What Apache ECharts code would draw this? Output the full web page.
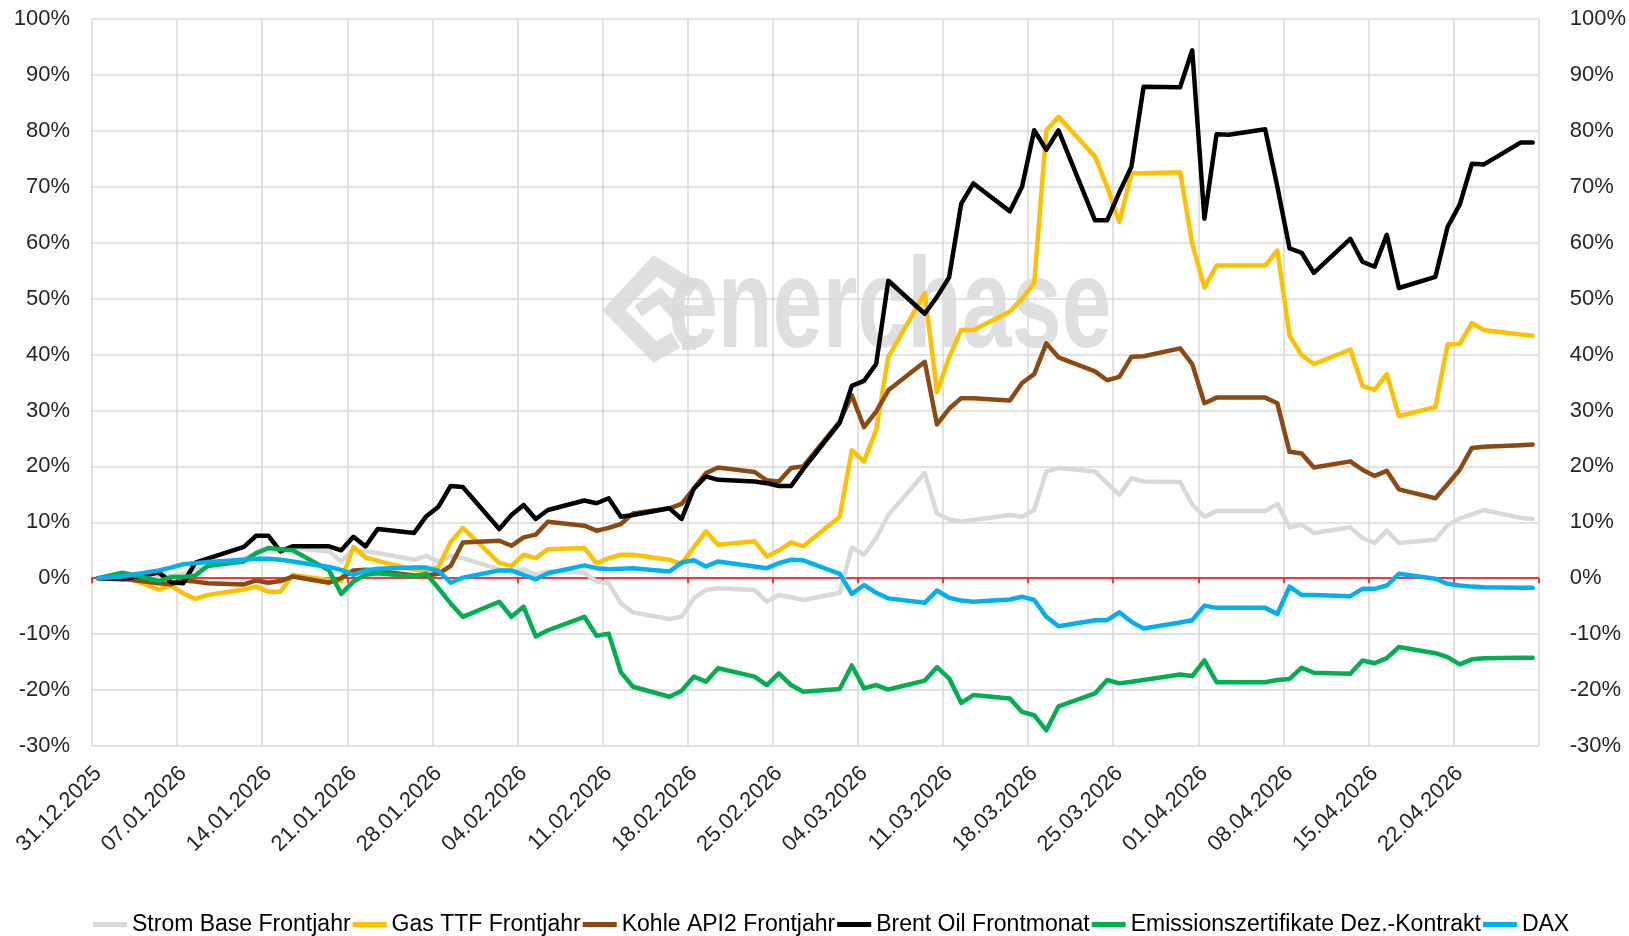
<!DOCTYPE html>
<html>
<head>
<meta charset="utf-8">
<script src="https://cdn.jsdelivr.net/npm/echarts@6/dist/echarts.min.js"></script>
<style>
  html, body { margin: 0; padding: 0; background: #fff; }
  #chart { width: 1629px; height: 936px; }
</style>
</head>
<body>
<div id="chart"></div>
<script>
  // Achse: 31.12.2025 bis 29.04.2026 (119 Tage), Beschriftung alle 7 Tage
  const startDate = '31.12.2025';
  const dayCount = 119;
  const tickLabels = ['31.12.2025', '07.01.2026', '14.01.2026', '21.01.2026', '28.01.2026', '04.02.2026',
    '11.02.2026', '18.02.2026', '25.02.2026', '04.03.2026', '11.03.2026', '18.03.2026', '25.03.2026',
    '01.04.2026', '08.04.2026', '15.04.2026', '22.04.2026'];

  const tradingDays = ['31.12.2025', '02.01.2026', '05.01.2026', '06.01.2026', '07.01.2026', '08.01.2026', '09.01.2026',
    '12.01.2026', '13.01.2026', '14.01.2026', '15.01.2026', '16.01.2026',
    '19.01.2026', '20.01.2026', '21.01.2026', '22.01.2026', '23.01.2026',
    '26.01.2026', '27.01.2026', '28.01.2026', '29.01.2026', '30.01.2026',
    '02.02.2026', '03.02.2026', '04.02.2026', '05.02.2026', '06.02.2026',
    '09.02.2026', '10.02.2026', '11.02.2026', '12.02.2026', '13.02.2026',
    '16.02.2026', '17.02.2026', '18.02.2026', '19.02.2026', '20.02.2026',
    '23.02.2026', '24.02.2026', '25.02.2026', '26.02.2026', '27.02.2026',
    '02.03.2026', '03.03.2026', '04.03.2026', '05.03.2026', '06.03.2026',
    '09.03.2026', '10.03.2026', '11.03.2026', '12.03.2026', '13.03.2026',
    '16.03.2026', '17.03.2026', '18.03.2026', '19.03.2026', '20.03.2026',
    '23.03.2026', '24.03.2026', '25.03.2026', '26.03.2026', '27.03.2026',
    '30.03.2026', '31.03.2026', '01.04.2026', '02.04.2026', '03.04.2026',
    '06.04.2026', '07.04.2026', '08.04.2026', '09.04.2026', '10.04.2026',
    '13.04.2026', '14.04.2026', '15.04.2026', '16.04.2026', '17.04.2026',
    '20.04.2026', '21.04.2026', '22.04.2026', '23.04.2026', '24.04.2026',
    '27.04.2026', '28.04.2026'];

  // Veränderung seit 31.12.2025 in %
  const strom = [0, 0.5, 0.2, 0.4, 0.8, 1.5, 2.2,
    3.5, 4.5, 5.3, 5.2, 5.4,
    4.8, 3.0, 5.1, 4.8, 4.5,
    3.3, 4.0, 3.0, 4.0, 3.6,
    1.6, 0.9, 1.6, 0.6, 1.2,
    1.0, -0.6, -0.9, -4.5, -6.1,
    -7.3, -6.9, -3.6, -2.1, -1.8,
    -2.1, -4.2, -3.0, -3.4, -3.9,
    -2.6, 5.5, 4.2, 7.2, 11.3,
    18.8, 11.6, 10.5, 10.1, 10.4,
    11.3, 11.0, 12.2, 19.1, 19.7,
    19.1, 17.0, 14.9, 17.9, 17.3,
    17.2, 13.2, 11.0, 12.0, 12.0,
    12.0, 13.3, 9.1, 9.6, 8.1,
    9.1, 7.2, 6.3, 8.5, 6.3,
    6.9, 9.5, 10.7, 11.4, 12.2,
    10.8, 10.6];

  const gas = [0, 0.4, -2.0, -1.3, -2.7, -3.7, -3.0,
    -2.0, -1.5, -2.4, -2.4, 0.6,
    -0.3, -0.5, 5.6, 3.7, 3.1,
    1.5, 1.3, 2.0, 6.5, 9.0,
    2.7, 2.2, 4.2, 3.6, 5.2,
    5.4, 2.7, 3.6, 4.2, 4.2,
    3.3, 2.6, 5.5, 8.4, 6.0,
    6.6, 3.9, 5.0, 6.4, 5.7,
    11.0, 22.9, 20.9, 26.5, 39.6,
    51.0, 33.3, 39.5, 44.4, 44.4,
    47.7, 50.0, 52.8, 80.1, 82.5,
    75.4, 70.0, 63.7, 72.4, 72.4,
    72.6, 59.8, 52.0, 55.9, 55.9,
    55.9, 58.6, 43.4, 39.9, 38.3,
    40.9, 34.4, 33.7, 36.5, 29.0,
    30.6, 41.8, 41.9, 45.6, 44.4,
    43.6, 43.4];

  const kohle = [0, -0.1, -0.9, -1.1, -0.4, -0.6, -0.9,
    -1.1, -0.4, -0.8, -0.5, 0.3,
    -0.8, 0.0, 1.4, 1.5, 1.3,
    0.5, 0.5, 0.8, 2.2, 6.4,
    6.7, 5.8, 7.3, 7.8, 10.1,
    9.4, 8.5, 9.0, 9.7, 11.6,
    12.5, 13.3, 16.0, 18.8, 19.8,
    19.0, 17.5, 17.3, 19.7, 20.0,
    28.0, 32.7, 27.0, 29.8, 33.6,
    38.7, 27.5, 30.3, 32.2, 32.2,
    31.8, 34.9, 36.5, 42.0, 39.5,
    37.0, 35.4, 36.0, 39.6, 39.7,
    41.1, 38.3, 31.3, 32.3, 32.3,
    32.3, 31.3, 22.6, 22.3, 19.8,
    20.9, 19.4, 18.3, 19.2, 15.9,
    14.3, 16.8, 19.4, 23.3, 23.5,
    23.8, 23.9];

  const brent = [0, -0.2, 1.0, -0.7, -0.9, 2.8, 3.5,
    5.6, 7.6, 7.6, 4.8, 5.7,
    5.7, 5.0, 7.4, 5.7, 8.8,
    8.1, 11.1, 12.8, 16.5, 16.3,
    8.8, 11.3, 13.1, 10.6, 12.2,
    13.9, 13.4, 14.3, 11.0, 11.3,
    12.5, 10.6, 16.0, 18.2, 17.6,
    17.3, 17.0, 16.5, 16.5, 19.5,
    27.8, 34.4, 35.3, 38.3, 53.2,
    47.3, 50.3, 53.8, 67.0, 70.6,
    65.6, 70.0, 80.1, 76.6, 80.1,
    64.0, 64.0, 69.0, 73.6, 87.9,
    87.8, 94.4, 64.3, 79.4, 79.3,
    80.3, 70.0, 59.0, 58.2, 54.6,
    60.7, 56.6, 55.7, 61.4, 51.9,
    53.9, 62.8, 66.8, 74.1, 74.0,
    77.9, 77.9];

  const emissionen = [0, 1.0, -0.5, 0.2, 0.2, 0.5, 2.2,
    3.0, 4.5, 5.4, 5.2, 5.0,
    1.4, -2.8, -0.6, 0.6, 0.9,
    0.3, 0.8, -1.8, -4.5, -6.9,
    -4.2, -6.9, -5.1, -10.4, -9.3,
    -6.9, -10.3, -9.9, -16.8, -19.4,
    -21.2, -20.1, -17.6, -18.5, -16.1,
    -17.6, -19.1, -17.0, -19.1, -20.3,
    -19.8, -15.6, -19.7, -19.1, -19.9,
    -18.3, -15.9, -17.9, -22.3, -20.9,
    -21.5, -23.9, -24.5, -27.2, -22.9,
    -20.6, -18.2, -18.8, -18.5, -18.2,
    -17.2, -17.5, -14.7, -18.6, -18.6,
    -18.6, -18.2, -18.0, -16.0, -16.9,
    -17.1, -14.7, -15.2, -14.3, -12.3,
    -13.4, -14.1, -15.4, -14.5, -14.3,
    -14.2, -14.2];

  const dax = [0, 0.3, 1.4, 1.9, 2.5, 2.7, 2.9,
    3.3, 3.5, 3.5, 3.3, 3.0,
    2.0, 1.5, 0.6, 1.4, 1.7,
    1.9, 1.9, 1.3, -0.8, 0.1,
    1.4, 1.4, 0.6, -0.2, 0.9,
    2.3, 1.8, 1.6, 1.7, 1.8,
    1.2, 2.8, 3.2, 2.1, 3.0,
    2.1, 1.8, 2.7, 3.3, 3.2,
    0.8, -2.8, -1.2, -2.6, -3.6,
    -4.4, -2.2, -3.5, -4.0, -4.2,
    -3.8, -3.3, -3.9, -6.9, -8.6,
    -7.5, -7.5, -6.1, -7.8, -9.0,
    -7.9, -7.5, -4.9, -5.3, -5.3,
    -5.3, -6.4, -1.5, -3.0, -3.0,
    -3.2, -1.9, -1.9, -1.3, 0.8,
    -0.1, -1.0, -1.3, -1.5, -1.6,
    -1.7, -1.7];

  const seriesNames = ['Strom Base Frontjahr', 'Gas TTF Frontjahr', 'Kohle API2 Frontjahr',
    'Brent Oil Frontmonat', 'Emissionszertifikate Dez.-Kontrakt', 'DAX'];
  const seriesColors = ['#D9D9D9', '#FFC000', '#8C4A12', '#000000', '#00B050', '#00B0F0'];
  const seriesValues = [strom, gas, kohle, brent, emissionen, dax];

  function parseDate(s) {
    const p = s.split('.');
    return Date.UTC(+p[2], +p[1] - 1, +p[0]);
  }
  const t0 = parseDate(startDate);
  // Tag im Achsenbereich, Punkt in der Mitte des Tages
  const dayPos = tradingDays.map(d => (parseDate(d) - t0) / 86400000 + 0.5);

  const labelSlots = [];
  for (let i = 0; i < dayCount; i++) {
    labelSlots.push(i % 7 === 0 ? (tickLabels[i / 7] || '') : '');
  }

  const chartInstance = echarts.init(document.getElementById('chart'), null, {renderer: 'canvas'});
  const textColor = '#262626';
  const fontFamily = '"Liberation Sans", Arial, sans-serif';

  const chartSetting = {
    animation: false,
    backgroundColor: '#ffffff',
    textStyle: {fontFamily: fontFamily},
    grid: {left: 92, right: 88, top: 19, bottom: 190, containLabel: false},
    legend: {
      left: 88,
      top: 908,
      itemWidth: 34,
      itemHeight: 5,
      itemGap: 2,
      icon: 'rect',
      textStyle: {fontSize: 23, color: '#000000', fontFamily: fontFamily},
      data: seriesNames
    },
    xAxis: [{
      // Gitterlinien + rote Nulllinie
      type: 'value',
      min: 0,
      max: dayCount,
      interval: 7,
      position: 'top',
      axisLine: {show: true, onZero: true, lineStyle: {color: '#FF0000', width: 1.5}},
      axisTick: {show: true, inside: true, length: 5, lineStyle: {color: '#FF0000', width: 1.5}},
      axisLabel: {show: false},
      splitLine: {show: true, lineStyle: {color: '#D9D9D9', width: 1.5}}
    }, {
      // Datumsbeschriftung in der Mitte des Tages
      type: 'category',
      position: 'bottom',
      boundaryGap: true,
      data: labelSlots,
      axisLine: {show: false},
      axisTick: {show: false},
      splitLine: {show: false},
      axisLabel: {
        interval: 0,
        rotate: 45,
        margin: 24,
        fontSize: 22,
        color: textColor,
        fontFamily: fontFamily
      }
    }],
    yAxis: [{
      type: 'value',
      min: -30,
      max: 100,
      interval: 10,
      position: 'left',
      axisLine: {show: false},
      axisTick: {show: false},
      axisLabel: {formatter: '{value}%', fontSize: 22, color: textColor, margin: 22, fontFamily: fontFamily},
      splitLine: {show: true, lineStyle: {color: '#D9D9D9', width: 1.5}}
    }, {
      type: 'value',
      min: -30,
      max: 100,
      interval: 10,
      position: 'right',
      axisLine: {show: false},
      axisTick: {show: false},
      axisLabel: {formatter: '{value}%', fontSize: 22, color: textColor, margin: 31, fontFamily: fontFamily},
      splitLine: {show: false}
    }],
    graphic: [{
      type: 'text',
      z: 1,
      left: 668,
      top: 248,
      scaleX: 0.7,
      style: {
        text: 'enerchase',
        fontSize: 128,
        fontWeight: 'bold',
        fontFamily: fontFamily,
        fill: '#D9D9D9',
        opacity: 0.85
      }
    }, {
      type: 'polyline',
      z: 1,
      shape: {points: [[694, 290], [655, 266], [614, 310], [655, 352], [676, 340]]},
      style: {stroke: '#D9D9D9', lineWidth: 17, fill: null, lineJoin: 'miter', opacity: 0.85}
    }, {
      type: 'polyline',
      z: 1,
      shape: {points: [[638, 311], [660, 296], [680, 318]]},
      style: {stroke: '#D9D9D9', lineWidth: 13, fill: null, opacity: 0.85}
    }, {
      type: 'rect',
      z: 1,
      shape: {x: 682, y: 336, width: 14, height: 14},
      style: {fill: '#D9D9D9', opacity: 0.85}
    }],
    series: seriesValues.map((vals, k) => ({
      name: seriesNames[k],
      type: 'line',
      xAxisIndex: 0,
      yAxisIndex: 0,
      showSymbol: false,
      symbol: 'none',
      color: seriesColors[k],
      lineStyle: {width: 4.5, color: seriesColors[k], cap: 'round', join: 'round'},
      z: 3 + k,
      data: vals.map((v, i) => [dayPos[i], v])
    }))
  };
  chartInstance.setOption(chartSetting);
</script>
</body>
</html>
